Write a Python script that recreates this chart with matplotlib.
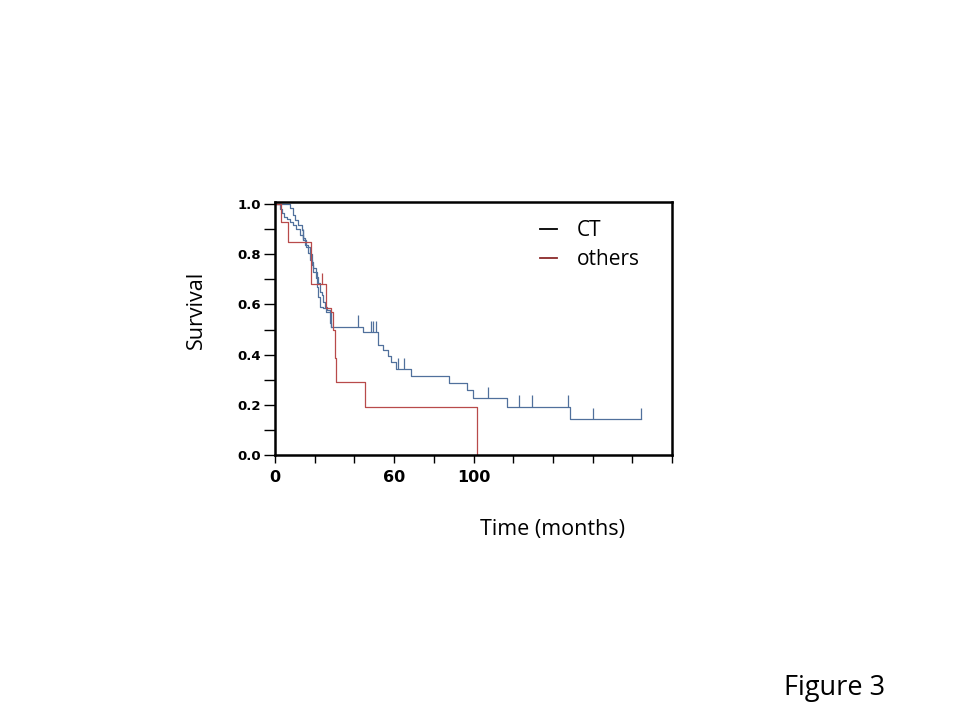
import matplotlib

matplotlib.use("Agg")
import matplotlib.pyplot as plt

# CT group, main staircase: step times (months) and survival after each step
ct_t = [0, 2.5, 3.5, 4.5, 6.0, 7.5, 9.0, 10.8, 12.5, 14.2, 15.8, 17.5, 18.5,
        19.2, 20.5, 21.2, 21.7, 22.8, 24.2, 25.8, 27.5, 28.3, 44.2, 52.0,
        54.2, 57.0, 58.3, 60.8, 68.3, 87.5, 96.7, 99.5, 116.7, 148.5, 184.2]
ct_s = [1.0, 0.98, 0.965, 0.95, 0.94, 0.93, 0.915, 0.90, 0.875, 0.855, 0.83,
        0.80, 0.77, 0.745, 0.705, 0.67, 0.63, 0.59, 0.584, 0.57, 0.525, 0.511,
        0.49, 0.438, 0.418, 0.394, 0.369, 0.341, 0.315, 0.286, 0.257, 0.226,
        0.193, 0.142, 0.142]
# second CT staircase drawn just right of the first one at the start
ct2_t = [0, 7.5, 9.0, 10.0, 11.5, 13.5, 14.0, 15.0, 16.5, 17.5, 18.5, 19.0,
         21.0, 21.5, 22.5, 23.5, 24.0, 25.0, 26.0, 27.5, 28.3]
ct2_s = [1.0, 0.984, 0.956, 0.936, 0.916, 0.896, 0.865, 0.837, 0.805, 0.777,
         0.757, 0.729, 0.709, 0.685, 0.649, 0.637, 0.61, 0.59, 0.578, 0.57,
         0.511]
ct_cens_t = [14.2, 42.0, 48.3, 49.5, 50.8, 62.0, 65.0, 107.5, 122.8, 129.7,
             147.8, 160.3, 184.2]
ct_cens_s = [0.855, 0.511, 0.49, 0.49, 0.49, 0.341, 0.341, 0.226, 0.193,
             0.193, 0.193, 0.142, 0.142]

# others group
ot_t = [0, 3.1, 6.8, 18.3, 25.5, 28.0, 29.0, 30.2, 30.8, 45.3, 102.0]
ot_s = [1.0, 0.93, 0.85, 0.68, 0.585, 0.57, 0.50, 0.386, 0.29, 0.19, 0.0]
ot_cens_t = [23.5]
ot_cens_s = [0.68]

x_ticks = [0, 20, 40, 60, 80, 100, 120, 140, 160, 180, 200]
x_labels = ["0", "", "", "60", "", "100", "", "", "", "", ""]
y_ticks = [0.0, 0.2, 0.4, 0.6, 0.8, 1.0]
y_minor = [0.1, 0.3, 0.5, 0.7, 0.9]

blue = "#50709c"
red = "#b84a4a"

fig = plt.figure(figsize=(9.6, 7.2), dpi=100)
ax = fig.add_axes([275 / 960, 1 - 455 / 720, 397 / 960, 253 / 720])

ax.step(ct_t, ct_s, where="post", color=blue, lw=0.9)
ax.step(ct2_t, ct2_s, where="post", color=blue, lw=0.9)
ax.vlines(ct_cens_t, ct_cens_s, [s + 0.045 for s in ct_cens_s], color=blue, lw=0.9)
ax.step(ot_t, ot_s, where="post", color=red, lw=0.9)
ax.vlines(ot_cens_t, ot_cens_s, [s + 0.045 for s in ot_cens_s], color=red, lw=0.9)

ax.set_xlim(0, 200)
ax.set_ylim(0, 1.008)
ax.set_xticks(x_ticks)
ax.set_xticklabels(x_labels, fontsize=11.5, fontweight="bold", family="DejaVu Sans")
ax.set_yticks(y_ticks)
ax.set_yticklabels([f"{v:.1f}" for v in y_ticks], fontsize=9.5,
                   fontweight="bold", family="DejaVu Sans")
ax.set_yticks(y_minor, minor=True)
ax.tick_params(axis="y", which="both", length=8, width=1.0, direction="out", pad=2)
ax.tick_params(axis="x", length=6, width=1.0, direction="out", pad=5)
for sp in ax.spines.values():
    sp.set_linewidth(1.8)

# legend drawn by hand
fig.lines.append(plt.Line2D([540 / 960, 557 / 960], [1 - 229 / 720] * 2,
                            color="black", lw=1.3, transform=fig.transFigure))
fig.lines.append(plt.Line2D([540 / 960, 557 / 960], [1 - 258 / 720] * 2,
                            color="#8b2a2a", lw=1.3, transform=fig.transFigure))
fig.text(577 / 960, 1 - 230 / 720, "CT", fontsize=15, family="Open Sans", va="center")
fig.text(577 / 960, 1 - 259 / 720, "others", fontsize=15, family="Open Sans",
         va="center")

fig.text(196 / 960, 1 - 310 / 720, "Survival", fontsize=15.5, family="Open Sans",
         rotation=90, ha="center", va="center")
fig.text(553 / 960, 1 - 529 / 720, "Time (months)", fontsize=15.5, family="Open Sans",
         ha="center", va="center")
fig.text(835 / 960, 1 - 688 / 720, "Figure 3", fontsize=19.5, family="Open Sans",
         ha="center", va="center")

fig.savefig("out.png", dpi=100)
